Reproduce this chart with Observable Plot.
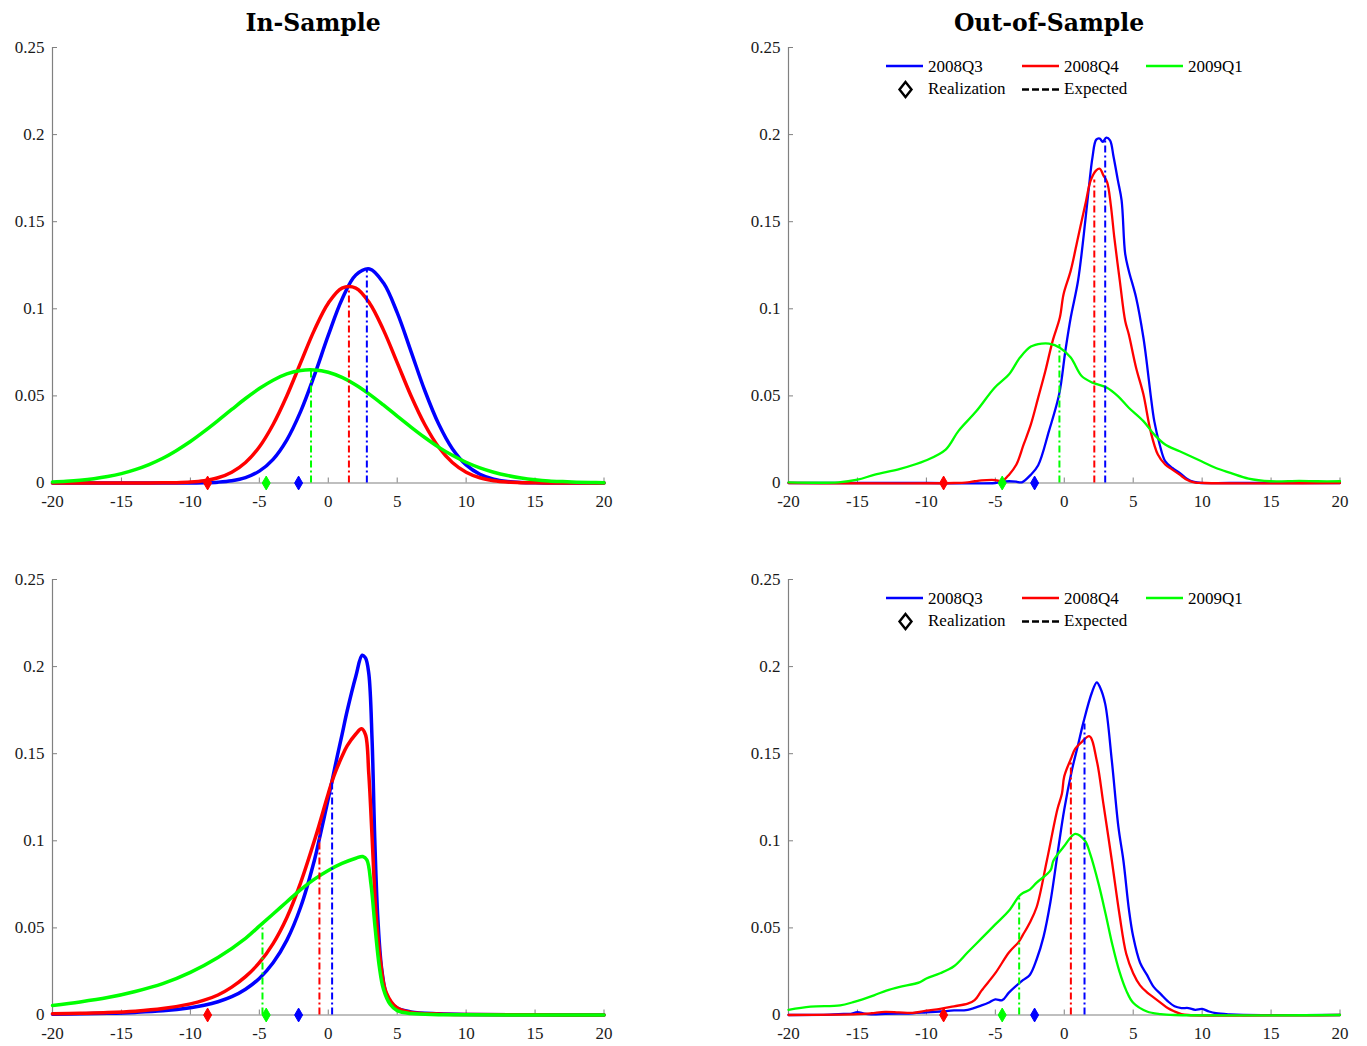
<!DOCTYPE html>
<html>
<head>
<meta charset="utf-8">
<script src="https://cdn.jsdelivr.net/npm/d3@7"></script>
<script src="https://cdn.jsdelivr.net/npm/@observablehq/plot@0.6"></script>
<style>
  html, body { margin: 0; padding: 0; background: #fff; }
  #root { position: relative; width: 1367px; height: 1046px; overflow: hidden; }
  .panel { position: absolute; width: 650px; height: 490px; }
  .panel svg { max-width: none !important; }
  #overlay { position: absolute; left: 0; top: 0; pointer-events: none; }
</style>
</head>
<body>
<div id="root"></div>
<script>
// ---------------- DATA ----------------
const seriesNames = ["2008Q3", "2008Q4", "2009Q1"];
const seriesColors = ["#0000ff", "#ff0000", "#00ff00"];
const xTicks = [-20, -15, -10, -5, 0, 5, 10, 15, 20];
const yTicks = [0, 0.05, 0.1, 0.15, 0.2, 0.25];
const panelTitles = ["In-Sample", "Out-of-Sample"];
const legendLabels = ["Realization", "Expected"];

// realized values (diamonds), order: 2008Q3, 2008Q4, 2009Q1
const realization = [-2.15, -8.75, -4.5];

// ---- In-Sample, top (normal densities) ----
const inTopX = [-20,-19,-18,-17,-16,-15,-14,-13,-12,-11,-10,-9,-8,-7,-6,-5,-4,-3,-2,-1,0,1,2,3,4,5,6,7,8,9,10,11,12,13,14,15,16,17,18,19,20];
const inTopQ3 = [0,0,0,0,0,0,0,0,0,0.00001,0.00005,0.00016,0.00048,0.00127,0.00308,0.0068,0.0136,0.0248,0.0411,0.0619,0.0847,0.1055,0.1194,0.1229,0.1149,0.0978,0.0756,0.0531,0.0340,0.0197,0.0104,0.0050,0.0022,0.00087,0.0003,0.0001,0,0,0,0,0];
const inTopQ4 = [0,0,0,0,0,0,0,0.00002,0.00008,0.00021,0.00056,0.00135,0.0030,0.0062,0.0118,0.0207,0.0336,0.0501,0.0691,0.0879,0.1032,0.1119,0.1119,0.1032,0.0879,0.0691,0.0501,0.0336,0.0207,0.0118,0.0062,0.0030,0.00135,0.00056,0.00021,0.00008,0.00002,0,0,0,0];
const inTopQ1 = [0.00063,0.00102,0.00161,0.00247,0.0037,0.0054,0.0077,0.0106,0.0142,0.0187,0.0238,0.0296,0.0358,0.0422,0.0485,0.0542,0.0590,0.0626,0.0646,0.0649,0.0636,0.0606,0.0563,0.0509,0.0448,0.0384,0.0321,0.0261,0.0206,0.0159,0.0119,0.0087,0.0062,0.0043,0.0029,0.0019,0.0012,0.0008,0.0005,0.0003,0.0002];
const inTopExpX = [2.8, 1.5, -1.25];
const inTopExpH = [0.1231, 0.113, 0.0649];

// ---- Out-of-Sample, top ----
const outTopQ3x = [-20,-10,-5,-4.5,-4,-3.5,-3.08,-2.42,-1.89,-1.11,-0.37,0.08,0.47,1.0,1.53,1.79,2.05,2.32,2.58,2.79,3.05,3.32,3.58,3.89,4.16,4.42,4.68,5.21,5.74,6.0,6.26,6.53,6.92,7.32,7.84,8.37,8.89,9.42,9.95,12,20];
const outTopQ3y = [0,0,0,0.0008,0.001,0.0008,0.0004,0.0048,0.0102,0.0298,0.0509,0.0758,0.0950,0.1161,0.1507,0.1699,0.1871,0.1971,0.1977,0.1958,0.1983,0.1967,0.1871,0.1737,0.1622,0.1315,0.1219,0.1065,0.0835,0.0681,0.0509,0.0355,0.0221,0.0125,0.0086,0.0058,0.0025,0.0006,0,0,0];
const outTopQ4x = [-20,-8,-7,-6.5,-6,-5,-4.7,-4.5,-4.0,-3.47,-2.95,-2.42,-1.89,-1.37,-0.84,-0.32,-0.05,0.47,1.0,1.53,1.92,2.32,2.58,2.84,3.11,3.37,3.63,4.03,4.42,4.68,5.21,5.74,6.26,6.79,7.32,7.84,8.37,8.89,9.42,10.2,20];
const outTopQ4y = [0,0,0.0004,0.001,0.0015,0.0017,0.0012,0.001,0.0048,0.0106,0.022,0.0336,0.049,0.0643,0.0816,0.095,0.1084,0.1219,0.141,0.160,0.1737,0.1795,0.1804,0.1766,0.1727,0.160,0.141,0.116,0.093,0.0854,0.0662,0.0509,0.0298,0.0163,0.0106,0.0077,0.0048,0.0019,0.0004,0,0];
const outTopQ1x = [-20,-16.37,-15,-13.74,-11.9,-10.05,-8.6,-7.68,-6.37,-5.05,-4.0,-3.21,-2.42,-1.63,-1.11,-0.32,0.47,1.26,2.05,3.1,3.89,4.68,5.74,6.53,7.32,8.37,9.95,11.0,12.05,13.37,14.95,17.05,18.37,20];
const outTopQ1y = [0.0004,0.0004,0.0019,0.0048,0.0081,0.0129,0.0192,0.0298,0.0413,0.0547,0.0624,0.072,0.0783,0.080,0.080,0.0777,0.072,0.0614,0.0576,0.0547,0.0499,0.0432,0.0355,0.0278,0.0221,0.0182,0.0125,0.0086,0.0058,0.0025,0.001,0.0012,0.001,0.001];
const outTopExpX = [2.97, 2.18, -0.35];
const outTopExpH = [0.197, 0.174, 0.0795];

// ---- In-Sample, bottom (skewed densities) ----
const inBotQ3x = [-20,-18,-16,-14,-12,-10,-9,-8,-7,-6,-5,-4,-3,-2,-1,-0.62,0,0.28,0.64,1,1.37,2,2.46,2.7,2.94,3.18,3.37,3.6,3.9,4.3,5,6,8,10,15,20];
const inBotQ3y = [0.0005,0.0007,0.001,0.0015,0.0024,0.0042,0.0056,0.0076,0.0105,0.0148,0.021,0.030,0.043,0.062,0.089,0.102,0.124,0.1346,0.148,0.161,0.1745,0.1945,0.2065,0.205,0.196,0.1576,0.102,0.055,0.025,0.010,0.004,0.0018,0.0007,0.0003,0.0001,0];
const inBotQ4x = [-20,-18,-16,-14,-12,-10,-9,-8,-7,-6,-5,-4,-3,-2,-0.93,0,0.4,1,1.37,2,2.41,2.7,2.94,3.18,3.45,3.8,4.2,5,6,8,10,15,20];
const inBotQ4y = [0.0007,0.0010,0.0014,0.0022,0.0037,0.0064,0.0085,0.0115,0.016,0.022,0.030,0.041,0.056,0.076,0.102,0.127,0.137,0.1485,0.1545,0.1613,0.1643,0.161,0.1385,0.102,0.060,0.030,0.013,0.004,0.0015,0.0006,0.0003,0.0001,0];
const inBotQ1x = [-20,-18,-16,-14,-12,-10,-8,-6,-5,-4,-3,-2,-1,0,1,2,2.5,2.8,3.1,3.4,3.7,4,4.5,5,6,8,10,20];
const inBotQ1y = [0.0055,0.0075,0.0100,0.0135,0.018,0.0245,0.033,0.044,0.051,0.058,0.065,0.072,0.078,0.083,0.087,0.090,0.091,0.089,0.075,0.050,0.028,0.015,0.006,0.0025,0.0008,0.0002,0.0001,0];
const inBotExpX = [0.28, -0.64, -4.77];
const inBotExpH = [0.1346, 0.110, 0.0525];

// ---- Out-of-Sample, bottom ----
const outBotQ3x = [-20,-17,-16,-15.5,-15,-14.5,-14,-13,-12,-11,-10,-9,-8,-7,-6,-5.5,-5,-4.5,-4,-3,-2.5,-2,-1.5,-1,-0.42,0,0.55,1,1.39,2,2.36,2.6,2.97,3.45,3.93,4.29,4.7,5,5.5,6,6.5,7,7.5,8,8.5,9,9.5,10,10.5,11,12,13,20];
const outBotQ3y = [0,0.0002,0.0006,0.0007,0.0016,0.0008,0.0004,0.0006,0.0008,0.001,0.0015,0.002,0.0026,0.003,0.0055,0.007,0.009,0.0085,0.013,0.020,0.023,0.032,0.045,0.065,0.0963,0.118,0.1404,0.155,0.168,0.185,0.191,0.188,0.1786,0.146,0.1078,0.0887,0.060,0.045,0.030,0.023,0.016,0.012,0.008,0.005,0.004,0.004,0.003,0.0035,0.002,0.001,0.0003,0,0];
const outBotQ4x = [-20,-15,-14,-13,-12,-11,-10,-9,-8,-7,-6.5,-6,-5,-4,-3.3,-3,-2.5,-2,-1.26,-0.5,-0.17,0,0.48,0.79,1.3,1.83,2.36,2.84,3.45,4,4.5,5,5.5,6,6.5,7,7.5,8,8.5,9,20];
const outBotQ4y = [0,0.0005,0.001,0.0018,0.0015,0.0012,0.0025,0.0035,0.005,0.0065,0.0085,0.014,0.024,0.036,0.042,0.046,0.053,0.062,0.0887,0.118,0.127,0.137,0.147,0.1528,0.157,0.160,0.146,0.1212,0.0887,0.058,0.035,0.024,0.017,0.013,0.010,0.007,0.004,0.002,0.0005,0,0];
const outBotQ1x = [-20,-18.4,-16.25,-15.3,-13.8,-12.9,-12,-10.5,-10,-9,-8,-7,-6,-5,-4,-3.3,-3,-2.5,-2,-1,-0.78,0,0.79,1.5,1.88,2.5,3,3.5,4,4.5,5,6,7,8,20];
const outBotQ1y = [0.003,0.0048,0.0055,0.0074,0.0113,0.014,0.016,0.0187,0.021,0.024,0.028,0.036,0.044,0.052,0.060,0.068,0.070,0.072,0.076,0.083,0.0887,0.097,0.104,0.100,0.0925,0.075,0.058,0.040,0.025,0.014,0.007,0.002,0.0005,0,0];
const outBotExpX = [1.47, 0.48, -3.27];
const outBotExpH = [0.167, 0.147, 0.0686];

// ---------------- DRAWING ----------------
const root = document.getElementById("root");
const AXIS = "#808080";
const W = 650, H = 490, mL = 52, mR = 46.5, mT = 17, mB = 37.5;
const pw = W - mL - mR, ph = H - mT - mB;

function rows(xs, ys, name) { return xs.map((x, i) => ({s: name, x, y: ys[i]})); }

function panel(left, top, series, expX, expH, lineW) {
  const lines = series.flatMap(([xs, ys], i) => rows(xs, ys, seriesNames[i]));
  const exp = expX.map((x, i) => ({s: seriesNames[i], x, h: expH[i]}));
  const real = realization.map((x, i) => ({s: seriesNames[i], x}));
  const chart = Plot.plot({
    width: W, height: H,
    marginLeft: mL, marginRight: mR, marginTop: mT, marginBottom: mB,
    style: {fontFamily: "'Liberation Serif', serif", fontSize: "17px", color: "#1a1a1a", background: "transparent", overflow: "visible", maxWidth: "none"},
    x: {domain: [-20, 20]},
    y: {domain: [0, 0.25]},
    color: {domain: seriesNames, range: seriesColors},
    marks: [
      Plot.ruleY([0], {stroke: AXIS, strokeWidth: 1.2}),
      Plot.ruleX([-20], {stroke: AXIS, strokeWidth: 1.2}),
      Plot.tickX(xTicks, {x: d => d, stroke: AXIS, insetTop: ph - 5}),
      Plot.tickY(yTicks, {y: d => d, stroke: AXIS, insetRight: pw - 5}),
      Plot.axisX(xTicks, {tickSize: 0, tickPadding: 12, tickFormat: d => String(d), label: null, fontSize: 17, fill: "#1a1a1a"}),
      Plot.axisY(yTicks, {tickSize: 0, tickPadding: 8, tickFormat: d => String(d), label: null, fontSize: 17, fill: "#1a1a1a"}),
      Plot.line(lines, {x: "x", y: "y", z: "s", stroke: "s", strokeWidth: lineW, curve: "catmull-rom"}),
      Plot.ruleX(exp, {x: "x", y1: 0, y2: "h", stroke: "s", strokeWidth: 2, strokeDasharray: "7,3,2,3"}),
      Plot.dot(real, {x: "x", y: 0, symbol: "diamond", fill: "s", stroke: "s", strokeWidth: 1, r: 4.2})
    ]
  });
  const div = document.createElement("div");
  div.className = "panel";
  div.style.left = left + "px";
  div.style.top = top + "px";
  div.appendChild(chart);
  root.appendChild(div);
}

panel(0, 30, [[inTopX, inTopQ3], [inTopX, inTopQ4], [inTopX, inTopQ1]], inTopExpX, inTopExpH, 3.5);
panel(736.3, 30, [[outTopQ3x, outTopQ3y], [outTopQ4x, outTopQ4y], [outTopQ1x, outTopQ1y]], outTopExpX, outTopExpH, 2.3);
panel(0, 562, [[inBotQ3x, inBotQ3y], [inBotQ4x, inBotQ4y], [inBotQ1x, inBotQ1y]], inBotExpX, inBotExpH, 3.5);
panel(736.3, 562, [[outBotQ3x, outBotQ3y], [outBotQ4x, outBotQ4y], [outBotQ1x, outBotQ1y]], outBotExpX, outBotExpH, 2.3);

// ---- titles and legends overlay ----
const svg = d3.select(root).append("svg").attr("id", "overlay").attr("width", 1367).attr("height", 1046);
svg.selectAll("text.title").data([[313, panelTitles[0]], [1049, panelTitles[1]]]).join("text")
  .attr("x", d => d[0]).attr("y", 31)
  .attr("text-anchor", "middle")
  .style("font-family", "'DejaVu Serif', serif").style("font-weight", "bold").style("font-size", "23.5px")
  .text(d => d[1]);

function legend(dy) {
  const g = svg.append("g").attr("transform", `translate(0,${dy})`)
    .style("font-family", "'Liberation Serif', serif").style("font-size", "17px").attr("fill", "#000");
  const items = [[886, seriesColors[0], seriesNames[0]], [1022, seriesColors[1], seriesNames[1]], [1146, seriesColors[2], seriesNames[2]]];
  items.forEach(([x, c, t]) => {
    g.append("line").attr("x1", x).attr("x2", x + 37).attr("y1", 66).attr("y2", 66).attr("stroke", c).attr("stroke-width", 2.3);
    g.append("text").attr("x", x + 42).attr("y", 71.5).text(t);
  });
  g.append("path").attr("d", "M905.5,82 L911.5,89.5 L905.5,97 L899.5,89.5 Z").attr("fill", "none").attr("stroke", "#000").attr("stroke-width", 2.4);
  g.append("text").attr("x", 928).attr("y", 94).text(legendLabels[0]);
  g.append("line").attr("x1", 1022).attr("x2", 1060).attr("y1", 89.5).attr("y2", 89.5).attr("stroke", "#000").attr("stroke-width", 2.3).attr("stroke-dasharray", "7,3");
  g.append("text").attr("x", 1064).attr("y", 94).text(legendLabels[1]);
}
legend(0);
legend(532);
</script>
</body>
</html>
